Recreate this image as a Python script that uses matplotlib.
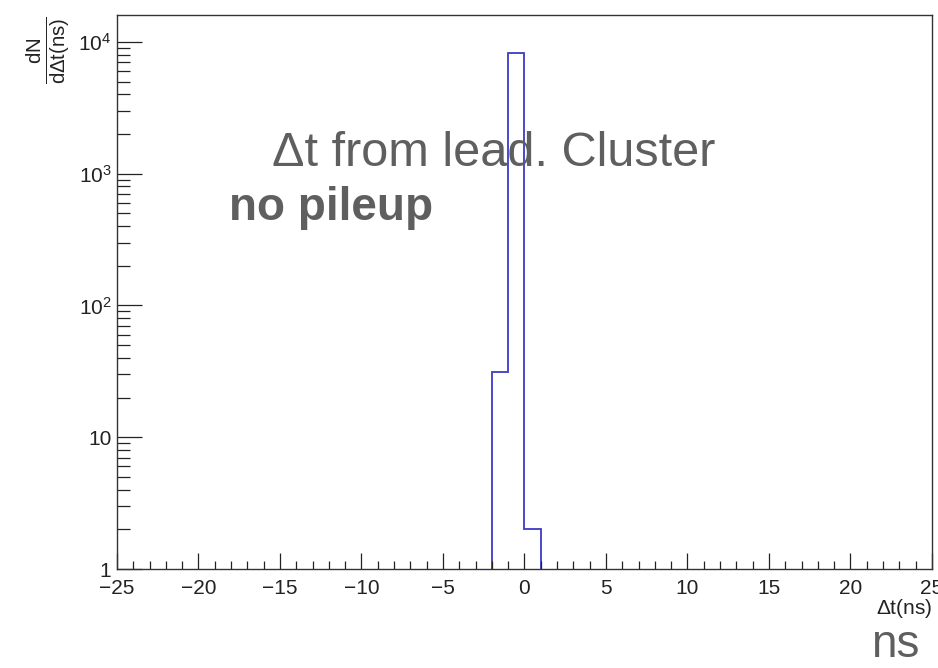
import matplotlib
matplotlib.use('Agg')
import matplotlib.pyplot as plt
from matplotlib.ticker import MultipleLocator, FixedLocator, NullFormatter

plt.rcParams['font.family'] = ['Liberation Sans', 'DejaVu Sans']
plt.rcParams['mathtext.fontset'] = 'custom'
plt.rcParams['mathtext.rm'] = 'Liberation Sans'
plt.rcParams['mathtext.it'] = 'Liberation Sans'

# histogram of dt from lead cluster (1 ns bins)
bin_edges = [-2, -1, 0, 1]
counts = [31, 8300, 2]

ytick_vals = [1, 10, 100, 1000, 10000]
ytick_labels = ['1', '10', r'$10^{2}$', r'$10^{3}$', r'$10^{4}$']

fig = plt.figure(figsize=(9.38, 6.68), dpi=100)
ax = fig.add_axes([0.1247, 0.1482, 0.8689, 0.8293])

ax.stairs(counts, bin_edges, baseline=1, color='#3c3cc8', lw=1.3)

ax.set_xlim(-25, 25)
ax.set_yscale('log')
ax.set_ylim(1, 16000)

ax.xaxis.set_major_locator(MultipleLocator(5))
ax.xaxis.set_minor_locator(MultipleLocator(1))
ax.yaxis.set_major_locator(FixedLocator(ytick_vals))
ax.set_yticklabels(ytick_labels)
ax.yaxis.set_minor_formatter(NullFormatter())

ax.tick_params(axis='both', which='both', direction='in', top=False, right=False,
               colors='#222222', labelsize=15)
ax.tick_params(axis='x', which='major', length=11.5, width=0.9, pad=7)
ax.tick_params(axis='x', which='minor', length=5.8, width=0.9)
ax.tick_params(axis='y', which='major', length=18, width=0.9, pad=4)
ax.tick_params(axis='y', which='minor', length=9, width=0.9)
for s in ax.spines.values():
    s.set_color('#333333')
    s.set_linewidth(1.0)

fig.text(0.9936, 1 - 608 / 668, r'$\Delta$t(ns)', ha='right', va='center', fontsize=15,
         color='#222222')
fig.text(48 / 938, 1 - 50 / 668, r'$\frac{dN}{d\Delta t(ns)}$', rotation=90, ha='center',
         va='center', fontsize=21, color='#222222')

ax.text(0.19, 0.727, 'Δt from lead. Cluster', transform=ax.transAxes, fontsize=35,
        color='#5f5f5f', ha='left', va='baseline')
ax.text(0.138, 0.630, 'no pileup', transform=ax.transAxes, fontsize=33,
        color='#5f5f5f', ha='left', va='baseline', fontweight='bold')
fig.text(871 / 938, 1 - 657 / 668, 'ns', fontsize=33, color='#5f5f5f', ha='left',
         va='baseline')

fig.savefig('out.png', dpi=100)
